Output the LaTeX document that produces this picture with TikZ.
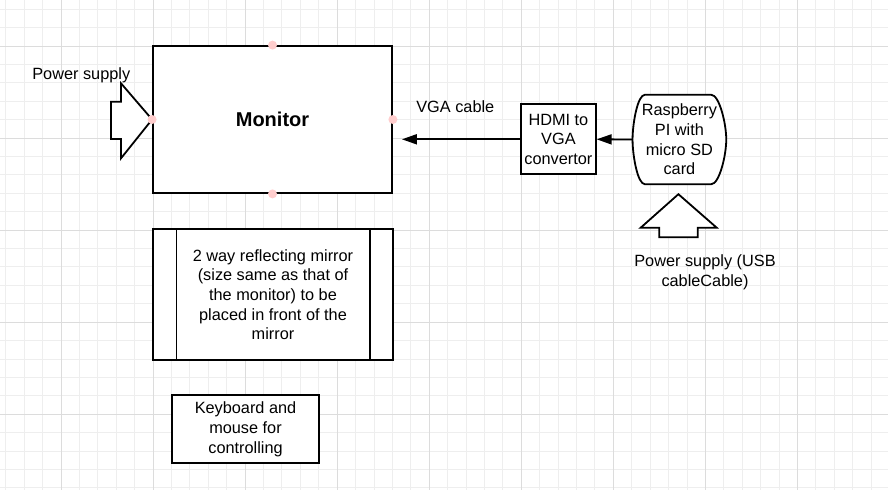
\documentclass[tikz,border=0pt]{standalone}
\usepackage{fontspec}
\setmainfont{Liberation Sans}
\usetikzlibrary{arrows.meta,calc}
\definecolor{gridminor}{RGB}{238,238,238}
\definecolor{gridmajor}{RGB}{220,220,220}
\definecolor{dotpink}{RGB}{255,205,205}
\newcommand\diagtxt{\fontsize{16.3}{19.7}\selectfont}
\begin{document}
\begin{tikzpicture}[x=1pt,y=-1pt,
  outline/.style={draw=black, line width=1.8pt, fill=white},
  box/.style={outline, inner sep=0pt, align=center, font=\diagtxt},
  lbl/.style={inner sep=0pt, align=center, font=\diagtxt},
  conn/.style={draw=black, line width=1.8pt, -{Triangle[length=15pt,width=10pt]}},
  dot/.style={fill=dotpink},
  minorline/.style={draw=gridminor, line width=0.9pt},
  majorline/.style={draw=gridmajor, line width=1pt}]
% background and grid
\fill[white] (0,0) rectangle (888,490);
\useasboundingbox (0,0) rectangle (888,490);
\foreach \i in {0,...,48} {\draw[minorline] ({5.77+18.41*\i},0) -- ({5.77+18.41*\i},490);}
\foreach \i in {0,...,26} {\draw[minorline] (0,{9.2+18.41*\i}) -- (888,{9.2+18.41*\i});}
\foreach \i in {0,...,9} {\draw[majorline] ({61+92.04*\i},0) -- ({61+92.04*\i},490);}
\foreach \i in {0,...,4} {\draw[majorline] (0,{46+92.04*\i}) -- (888,{46+92.04*\i});}

% monitor
\node[box, minimum width=239pt, minimum height=147pt, font=\fontsize{20}{24}\selectfont\bfseries] (mon) at (272.5,119.5) {Monitor};

% left power arrow
\draw[outline, line join=miter] (111,101.7) -- (121,101.7) -- (121,83.3) -- (mon.west) -- (121,158.3) -- (121,139) -- (111,139) -- cycle;
\node[lbl] (pwr) at (81.3,75) {Power supply};

% mirror
\node[box, minimum width=239.4pt, minimum height=130.7pt] (mir) at (273,294.7) {2 way reflecting mirror\\(size same as that of\\the monitor) to be\\placed in front of the\\mirror};
\draw[draw=black, line width=1.8pt] ($(mir.north west)+(24,0)$) -- ($(mir.south west)+(24,0)$);
\draw[draw=black, line width=1.8pt] ($(mir.north east)+(-23.4,0)$) -- ($(mir.south east)+(-23.4,0)$);

% keyboard
\node[box, minimum width=147.6pt, minimum height=68.3pt] (kbd) at (245.5,429.2) {Keyboard and\\mouse for\\controlling};

% HDMI converter
\node[box, minimum width=74.7pt, minimum height=70pt] (hdmi) at (558.4,139.3) {HDMI to\\VGA\\convertor};

% Raspberry PI
\node[lbl, minimum width=93.3pt, minimum height=89pt] (rpi) at (679.4,139.5) {};
\draw[outline]
  ($(rpi.north west)+(12.3,0)$) -- ($(rpi.north east)+(-15,0)$)
  .. controls ($(rpi.north east)+(-7,0)$) and ($(rpi.east)+(0,-16)$) .. (rpi.east)
  .. controls ($(rpi.east)+(0,16)$) and ($(rpi.south east)+(-7,0)$) .. ($(rpi.south east)+(-15,0)$)
  -- ($(rpi.south west)+(12.3,0)$)
  .. controls ($(rpi.south west)+(5,0)$) and ($(rpi.west)+(0,16)$) .. (rpi.west)
  .. controls ($(rpi.west)+(0,-16)$) and ($(rpi.north west)+(5,0)$) .. ($(rpi.north west)+(12.3,0)$) -- cycle;
\node[lbl] (rpitxt) at (rpi.center) {Raspberry\\PI with\\micro SD\\card};

% bottom power arrow
\coordinate (usbtip) at ($(rpi.south)+(-1,10)$);
\draw[outline, line join=miter] (659.3,237.3) -- (659.3,227.7) -- (640.7,227.7) -- (usbtip) -- (716.7,227.7) -- (697.7,227.7) -- (697.7,237.3) -- cycle;
\node[lbl] (usb) at (705,272.5) {Power supply (USB\\cableCable)};

% connectors
\draw[conn] (rpi.west) -- (hdmi.east);
\draw[conn, shorten >=9pt] (hdmi.west) -- (mon.east |- hdmi.west);
\node[lbl] (vga) at (455.3,106.5) {VGA cable};

% connection dots
\fill[dot] (mon.north) circle (4.5);
\fill[dot] (mon.south) circle (4.5);
\fill[dot] (mon.west) circle (4.5);
\fill[dot] (mon.east) circle (4.5);
\end{tikzpicture}
\end{document}
